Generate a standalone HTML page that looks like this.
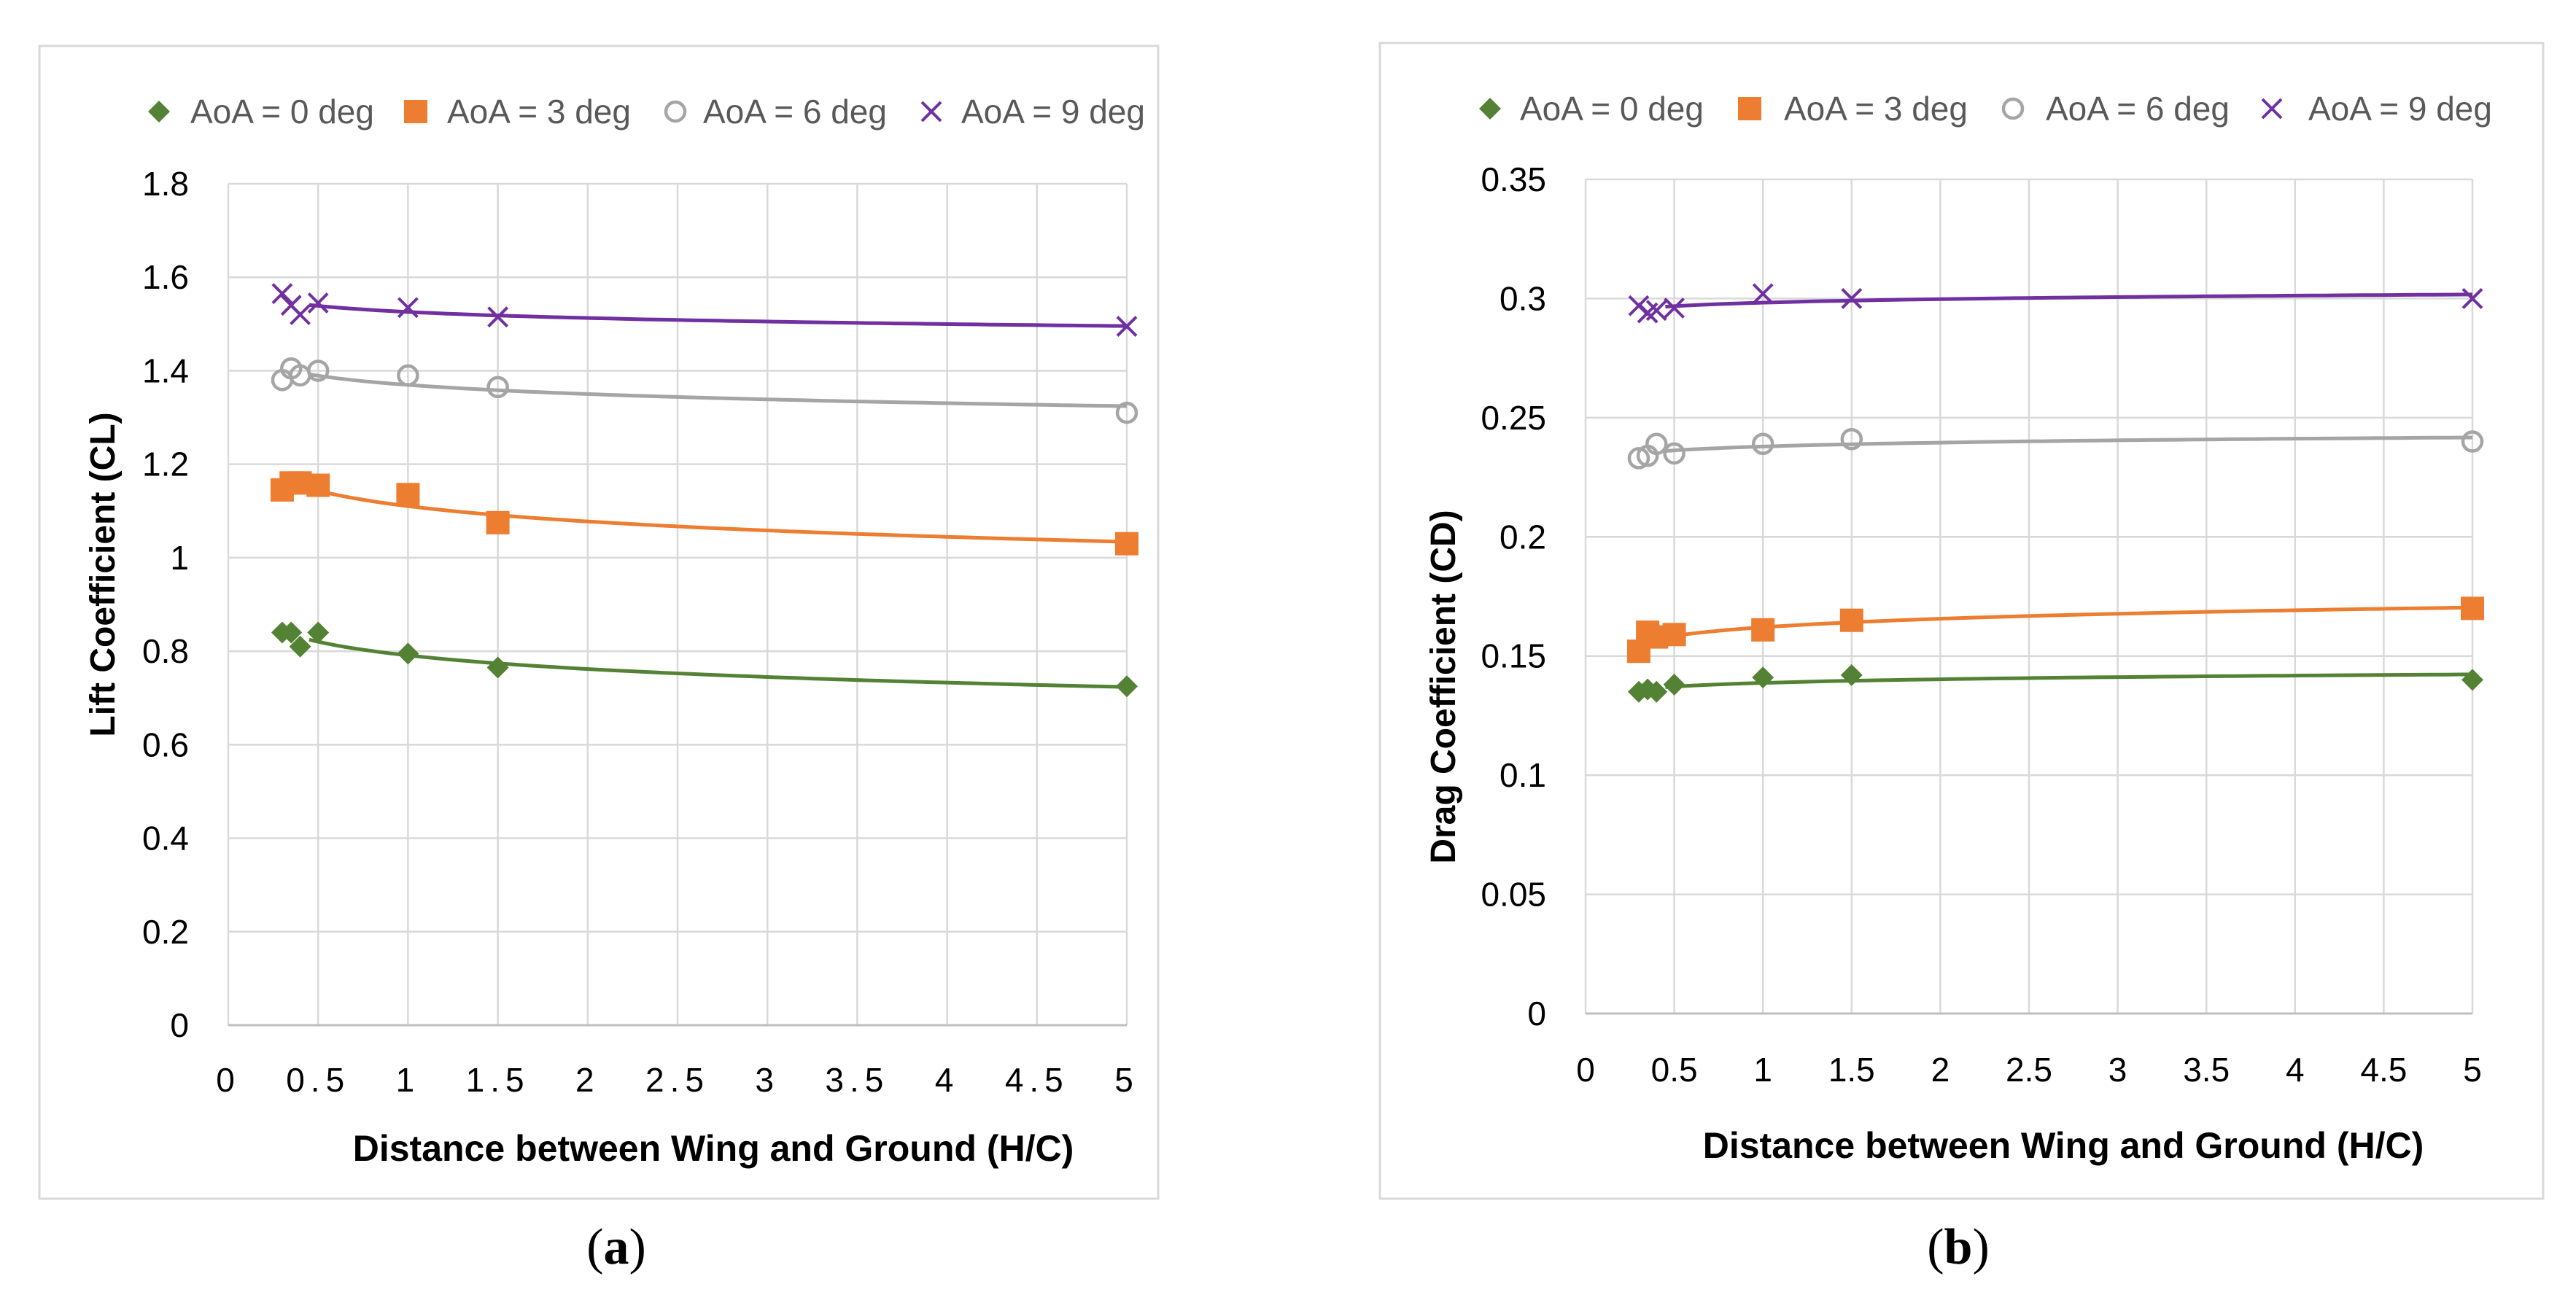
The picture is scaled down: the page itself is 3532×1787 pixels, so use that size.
<!DOCTYPE html>
<html><head><meta charset="utf-8"><style>
html,body{margin:0;padding:0;background:#fff;}
svg{display:block;}
</style></head><body>
<svg id="fig" width="3532" height="1787" xmlns="http://www.w3.org/2000/svg"></svg>
<script>
const xVals = [0.3, 0.35, 0.4, 0.5, 1, 1.5, 5];
const seriesNames = ["AoA = 0 deg", "AoA = 3 deg", "AoA = 6 deg", "AoA = 9 deg"];
const clAoA0 = [0.84, 0.84, 0.81, 0.84, 0.795, 0.765, 0.725];
const clAoA3 = [1.145, 1.16, 1.16, 1.155, 1.135, 1.075, 1.03];
const clAoA6 = [1.38, 1.405, 1.39, 1.40, 1.39, 1.365, 1.31];
const clAoA9 = [1.565, 1.54, 1.52, 1.545, 1.535, 1.515, 1.495];
const cdAoA0 = [0.135, 0.136, 0.135, 0.138, 0.141, 0.142, 0.140];
const cdAoA3 = [0.152, 0.160, 0.158, 0.159, 0.161, 0.165, 0.170];
const cdAoA6 = [0.233, 0.234, 0.239, 0.235, 0.239, 0.241, 0.240];
const cdAoA9 = [0.297, 0.294, 0.295, 0.296, 0.302, 0.300, 0.300];
const xTicks = [0, 0.5, 1, 1.5, 2, 2.5, 3, 3.5, 4, 4.5, 5];
const clTicks = [0, 0.2, 0.4, 0.6, 0.8, 1, 1.2, 1.4, 1.6, 1.8];
const cdTicks = [0, 0.05, 0.1, 0.15, 0.2, 0.25, 0.3, 0.35];

const NS = "http://www.w3.org/2000/svg";
const svg = document.getElementById("fig");
const colors = ["#548235", "#ED7D31", "#A5A5A5", "#7030A0"];
function mk(tag, attrs, parent) {
  const e = document.createElementNS(NS, tag);
  for (const k in attrs) e.setAttribute(k, attrs[k]);
  (parent || svg).appendChild(e);
  return e;
}
function marker(g, kind, cx, cy, col) {
  let m;
  if (kind === 0) m = mk("polygon", {points: `${cx},${cy-15} ${cx+15},${cy} ${cx},${cy+15} ${cx-15},${cy}`, fill: col}, g);
  else if (kind === 1) m = mk("rect", {x: cx-16, y: cy-16, width: 32, height: 32, fill: col}, g);
  else if (kind === 2) m = mk("circle", {cx: cx, cy: cy, r: 13, fill: "none", stroke: col, "stroke-width": 4.5}, g);
  else m = mk("path", {d: `M${cx-13},${cy-13}L${cx+13},${cy+13}M${cx-13},${cy+13}L${cx+13},${cy-13}`, stroke: col, "stroke-width": 4, fill: "none"}, g);
  return m;
}
function logFit(xs, ys) {
  const n = xs.length; let sx=0, sy=0, sxx=0, sxy=0;
  for (let i=0;i<n;i++){const lx=Math.log(xs[i]); sx+=lx; sy+=ys[i]; sxx+=lx*lx; sxy+=lx*ys[i];}
  const b=(n*sxy-sx*sy)/(n*sxx-sx*sx); const a=(sy-b*sx)/n;
  return x=>a+b*Math.log(x);
}
function chart(o) {
  const root = mk("g", {});
  
  
  const fr = mk("rect", {x:o.bx, y:o.by, width:o.bw, height:o.bh, fill:"#fff", stroke:"#d9d9d9", "stroke-width":3}, root);
  
  
  const X = v => o.x0 + (v - 0) / 5 * (o.x1 - o.x0);
  const Y = v => o.y0 - (v - 0) / o.ymax * (o.y0 - o.y1);
  const grid = mk("g", {}, root);
  
  
  o.yTicks.forEach(t => {
    mk("line", {x1:X(0), x2:X(5), y1:Y(t), y2:Y(t), stroke:"#d9d9d9", "stroke-width":2.5}, grid);
    const tl = mk("text", {x:o.ylx, y:Y(t)+16, "text-anchor":"end", "font-size":46, fill:"#000", "font-family":"Liberation Sans, sans-serif"}, root);
    tl.textContent = String(t);
    
    
  });
  xTicks.forEach(t => {
    mk("line", {x1:X(t), x2:X(t), y1:Y(o.ymax), y2:Y(0), stroke:"#d9d9d9", "stroke-width":2.5}, grid);
    const tl = mk("text", {x:X(t), y:o.xly, "text-anchor":"middle", "font-size":46, fill:"#000", "font-family":"Liberation Sans, sans-serif", "letter-spacing": o.spaced ? 8 : 0}, root);
    tl.textContent = String(t);
    
    
  });
  const ax = mk("line", {x1:X(0), x2:X(5), y1:Y(0), y2:Y(0), stroke:"#bfbfbf", "stroke-width":3}, root);
  
  
  o.series.forEach((ys, si) => {
    const g = mk("g", {}, root);
    
    
    const f = logFit(xVals, ys);
    let d = "";
    for (let k=0;k<=60;k++){const xv=0.45+(5-0.45)*k/60; d+=(k?"L":"M")+X(xv).toFixed(1)+","+Y(f(xv)).toFixed(1);}
    const tr = mk("path", {d:d, fill:"none", stroke:colors[si], "stroke-width":5}, g);
    
    
    xVals.forEach((xv, i) => {
      const m = marker(g, si, X(xv), Y(ys[i]), colors[si]);
      
      
    });
  });
  const lg = mk("g", {}, root);
  
  
  seriesNames.forEach((nm, si) => {
    const it = mk("g", {}, lg);
    
    
    marker(it, si, o.legM[si], o.legY, colors[si]);
    const t = mk("text", {x:o.legT[si], y:o.legY+16, "font-size":46, fill:"#595959", "font-family":"Liberation Sans, sans-serif"}, it);
    t.textContent = nm;
  });
  const yt = mk("text", {x:0, y:0, transform:`translate(${o.ytx},${o.yty}) rotate(-90)`, "text-anchor":"middle", "font-size":48, "font-weight":"bold", fill:"#000", "font-family":"Liberation Sans, sans-serif"}, root);
  yt.textContent = o.ytitle;
  
  
  const xt = mk("text", {x:o.xtx, y:o.xty, "text-anchor":"middle", "font-size":50, "font-weight":"bold", fill:"#000", "font-family":"Liberation Sans, sans-serif"}, root);
  xt.textContent = "Distance between Wing and Ground (H/C)";
  
  
  const cp = mk("text", {x:o.capx, y:1733, "text-anchor":"middle", "font-size":70, fill:"#000", "font-family":"Liberation Serif, serif"}, root);
  cp.innerHTML = "(<tspan font-weight='bold'>" + o.cap + "</tspan>)";
  
  
}
chart({name:"lift-chart", bx:54, by:63, bw:1534, bh:1581, x0:313, x1:1545, y0:1406, y1:252, ymax:1.8,
  yTicks:clTicks, ylx:259, xly:1497, spaced:true, series:[clAoA0, clAoA3, clAoA6, clAoA9],
  legY:153, legM:[218,570,926,1277], legT:[261,613,964,1318],
  ytitle:"Lift Coefficient (CL)", ytx:157, yty:788, xtx:978, xty:1592, capx:845, cap:"a"});
chart({name:"drag-chart", bx:1892, by:59, bw:1595, bh:1585, x0:2174, x1:3390, y0:1390, y1:246, ymax:0.35,
  yTicks:cdTicks, ylx:2120, xly:1483, spaced:false, series:[cdAoA0, cdAoA3, cdAoA6, cdAoA9],
  legY:149, legM:[2043,2399,2760,3115], legT:[2084,2446,2805,3165],
  ytitle:"Drag Coefficient (CD)", ytx:1995, yty:942, xtx:2829, xty:1588, capx:2685, cap:"b"});
</script>
</body></html>
